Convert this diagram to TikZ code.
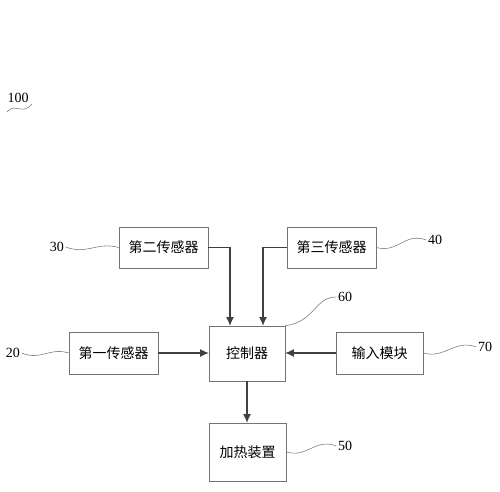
\documentclass[tikz,border=0pt]{standalone}
\usepackage{fontspec}
\setmainfont{Liberation Serif}
\newfontfamily\cjk{Noto Sans CJK SC}
\usetikzlibrary{arrows.meta,calc}

\begin{document}
\begin{tikzpicture}[x=0.75pt,y=-0.75pt,
	blocco/.style={draw=black!55,thin,font=\cjk\fontsize{10.5}{12}\selectfont,inner sep=0pt},
	freccia/.style={draw=black!75,thick,-{Latex[length=6.5pt,width=6pt]}},
	onda/.style={draw=black!55,thin},
	num/.style={font=\fontsize{10.5}{12}\selectfont,inner sep=1pt}]
	
	\useasboundingbox (0,0) rectangle (500,492);
	
	%blocchi
	\node[blocco,minimum width=66.75pt,minimum height=30.75pt] (s2) at (163.5,247.5) {第二传感器};
	\node[blocco,minimum width=66.75pt,minimum height=30.75pt] (s3) at (331.5,247.5) {第三传感器};
	\node[blocco,minimum width=66.75pt,minimum height=31.5pt] (s1) at (113.5,353) {第一传感器};
	\node[blocco,minimum width=57pt,minimum height=41.25pt] (ctrl) at (247,353.5) {控制器};
	\node[blocco,minimum width=65.25pt,minimum height=31.5pt] (inp) at (379.5,353) {输入模块};
	\node[blocco,minimum width=57.75pt,minimum height=43.5pt] (heat) at (247.5,452) {加热装置};
	
	%frecce
	\draw[freccia] (s2.east) -| ($(ctrl.north)+(-17,0)$);
	\draw[freccia] (s3.west) -| ($(ctrl.north)+(16,0)$);
	\draw[freccia] (s1.east) -- (s1.east -| ctrl.west);
	\draw[freccia] (inp.west) -- (inp.west -| ctrl.east);
	\draw[freccia] (ctrl.south) -- (ctrl.south |- heat.north);
	
	%numeri
	\node[num] (n100) at (18,98) {100};
	\node[num] (n30) at (57,247) {30};
	\node[num] (n20) at (13,353) {20};
	\node[num] (n40) at (435,240) {40};
	\node[num] (n60) at (345,297) {60};
	\node[num] (n70) at (485,347) {70};
	\node[num] (n50) at (345,446) {50};
	\coordinate (c100a) at (7,112);
	\coordinate (c100b) at (32,104);
	
	%onde
	\draw[onda] (c100a) .. controls (15,102) and (22,116) .. (c100b);
	\draw[onda] (n30.east) .. controls +(22,8) and +(-22,-6) .. (s2.west);
	\draw[onda] (n20.east) .. controls +(20,8) and +(-20,-6) .. (s1.west);
	\draw[onda] (s3.east) .. controls +(22,6) and +(-22,-8) .. (n40.west);
	\draw[onda] (ctrl.north east) .. controls +(30,-4) and +(-22,0) .. (n60.west);
	\draw[onda] (inp.east) .. controls +(22,6) and +(-22,-8) .. (n70.west);
	\draw[onda] (heat.east) .. controls +(22,6) and +(-22,-8) .. (n50.west);
	
\end{tikzpicture}
\end{document}
